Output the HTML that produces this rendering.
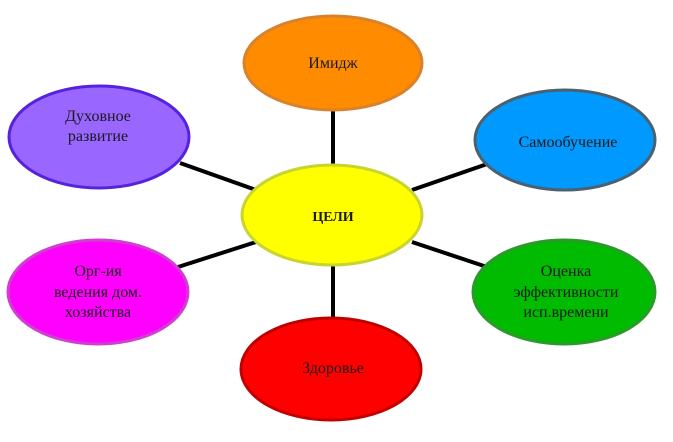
<!DOCTYPE html>
<html><head><meta charset="utf-8"><style>
html,body{margin:0;padding:0;background:#fff;width:673px;height:442px;overflow:hidden}
text{font-family:"Liberation Serif",serif;font-size:16px;fill:#1a1a1a}
</style></head><body>
<svg width="673" height="442" viewBox="0 0 673 442" xmlns="http://www.w3.org/2000/svg">
<g stroke="#000" stroke-width="4">
<line x1="333" y1="110" x2="333" y2="166"/>
<line x1="333" y1="266" x2="333" y2="320"/>
<line x1="180" y1="163" x2="256" y2="190"/>
<line x1="412" y1="190" x2="490" y2="163"/>
<line x1="178" y1="267" x2="256" y2="242"/>
<line x1="412" y1="242" x2="490" y2="268"/>
</g>
<g stroke-width="3">
<ellipse cx="333" cy="63" rx="89" ry="47" fill="#ff8c00" stroke="#d9822b"/>
<ellipse cx="99" cy="137" rx="90" ry="51" fill="#9966ff" stroke="#5522dd"/>
<ellipse cx="565" cy="140" rx="90" ry="50" fill="#0099ff" stroke="#4a6170"/>
<ellipse cx="332" cy="215" rx="90" ry="50" fill="#ffff00" stroke="#c8d430"/>
<ellipse cx="98" cy="292" rx="90" ry="52" fill="#ff00ff" stroke="#d040d0"/>
<ellipse cx="564" cy="292" rx="91" ry="52" fill="#00bb00" stroke="#2a9a2a"/>
<ellipse cx="331" cy="369" rx="90" ry="51" fill="#ff0000" stroke="#c00000"/>
</g>
<g text-anchor="middle">
<text x="333" y="68">Имидж</text>
<text x="98" y="121">Духовное</text>
<text x="98" y="141">развитие</text>
<text x="568" y="147">Самообучение</text>
<text x="333" y="221" style="font-weight:bold;font-size:14px">ЦЕЛИ</text>
<text x="98" y="276">Орг-ия</text>
<text x="98" y="297">ведения дом.</text>
<text x="98" y="317">хозяйства</text>
<text x="566" y="276">Оценка</text>
<text x="566" y="297">эффективности</text>
<text x="566" y="317">исп.времени</text>
<text x="333" y="373">Здоровье</text>
</g>
</svg>
</body></html>
